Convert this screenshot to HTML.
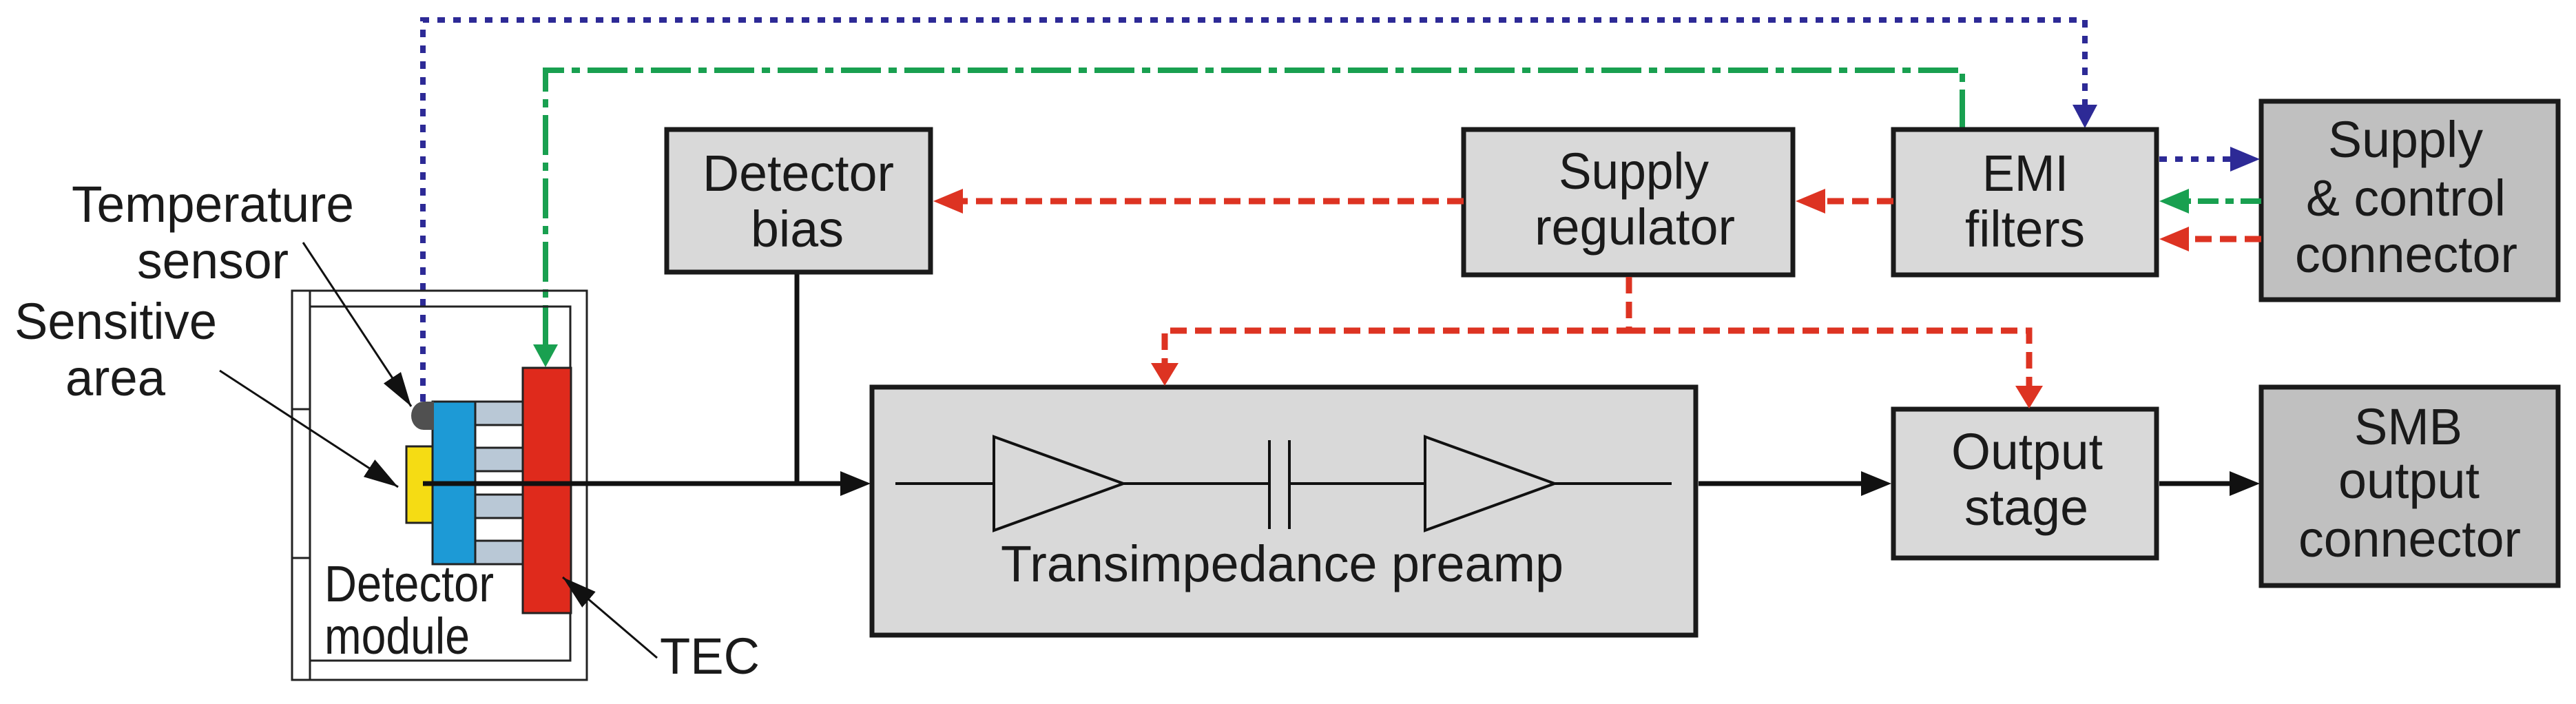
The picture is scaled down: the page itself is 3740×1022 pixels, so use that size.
<!DOCTYPE html>
<html><head><meta charset="utf-8"><style>html,body{margin:0;padding:0;background:#fff;overflow:hidden}svg{display:block}text{font-family:"Liberation Sans",Arial,sans-serif;font-size:74px;fill:#1a1a1a}</style></head>
<body>
<svg width="3740" height="1022" viewBox="0 0 3740 1022" xmlns="http://www.w3.org/2000/svg">
<defs>
<marker id="la" markerWidth="50" markerHeight="30" refX="50" refY="15" orient="auto" markerUnits="userSpaceOnUse" viewBox="0 0 50 30"><path d="M0,0 L50,15 L0,30 z" fill="#111"/></marker>
</defs>
<polyline points="614,583 614,29 3027,29 3027,156" fill="none" stroke="#2d2a96" stroke-width="8" stroke-dasharray="11 12"/>
<path d="M3009,152 L3045,152 L3027,186 z" fill="#2d2a96"/>
<polyline points="2849,188 2849,102 792,102 792,502" fill="none" stroke="#19a050" stroke-width="8" stroke-dasharray="58 11 12 11"/>
<path d="M774,500 L810,500 L792,533 z" fill="#19a050"/>
<rect x="424" y="422" width="428" height="565" fill="none" stroke="#222" stroke-width="3"/>
<rect x="450" y="445" width="378" height="514" fill="none" stroke="#222" stroke-width="3"/>
<line x1="450" y1="422" x2="450" y2="987" stroke="#222" stroke-width="3"/>
<line x1="424" y1="594" x2="450" y2="594" stroke="#222" stroke-width="3"/>
<line x1="424" y1="810" x2="450" y2="810" stroke="#222" stroke-width="3"/>
<rect x="690" y="583" width="69" height="236" fill="#fff" stroke="#222" stroke-width="3"/>
<rect x="690" y="583" width="69" height="34" fill="#b9c8d6" stroke="#222" stroke-width="3"/>
<rect x="690" y="650" width="69" height="34" fill="#b9c8d6" stroke="#222" stroke-width="3"/>
<rect x="690" y="718" width="69" height="34" fill="#b9c8d6" stroke="#222" stroke-width="3"/>
<rect x="690" y="785" width="69" height="34" fill="#b9c8d6" stroke="#222" stroke-width="3"/>
<rect x="628" y="583" width="62" height="236" fill="#1d9ad6" stroke="#222" stroke-width="3"/>
<rect x="590" y="648" width="38" height="111" fill="#f5dc14" stroke="#222" stroke-width="3"/>
<path d="M630,583 L615,583 A18,20.5 0 0 0 615,624 L630,624 z" fill="#505050"/>
<rect x="759" y="534" width="70" height="356" fill="#df2a1c" stroke="#222" stroke-width="3"/>
<line x1="614" y1="702" x2="1222" y2="702" stroke="#111" stroke-width="7"/>
<path d="M1220,684 L1264,702 L1220,720 z" fill="#111"/>
<line x1="1157" y1="395" x2="1157" y2="705" stroke="#111" stroke-width="7"/>
<line x1="440" y1="352" x2="597" y2="590" stroke="#111" stroke-width="3" marker-end="url(#la)"/>
<line x1="319" y1="538" x2="578" y2="707" stroke="#111" stroke-width="3" marker-end="url(#la)"/>
<line x1="954" y1="955" x2="817" y2="838" stroke="#111" stroke-width="3" marker-end="url(#la)"/>
<rect x="968" y="188" width="383" height="207" fill="#d9d9d9" stroke="#1a1a1a" stroke-width="7"/>
<rect x="2125" y="188" width="478" height="211" fill="#d9d9d9" stroke="#1a1a1a" stroke-width="7"/>
<rect x="2749" y="188" width="382" height="211" fill="#d9d9d9" stroke="#1a1a1a" stroke-width="7"/>
<rect x="3283" y="147" width="431" height="288" fill="#c0c0c0" stroke="#1a1a1a" stroke-width="7"/>
<rect x="1266" y="562" width="1196" height="360" fill="#d9d9d9" stroke="#1a1a1a" stroke-width="7"/>
<rect x="2749" y="594" width="382" height="216" fill="#d9d9d9" stroke="#1a1a1a" stroke-width="7"/>
<rect x="3283" y="562" width="431" height="288" fill="#c0c0c0" stroke="#1a1a1a" stroke-width="7"/>
<line x1="2125" y1="292" x2="1395" y2="292" stroke="#dd3322" stroke-width="9" stroke-dasharray="24 12"/>
<path d="M1398,274 L1355,292 L1398,310 z" fill="#dd3322"/>
<line x1="2749" y1="292" x2="2648" y2="292" stroke="#dd3322" stroke-width="9" stroke-dasharray="24 12"/>
<path d="M2650,274 L2607,292 L2650,310 z" fill="#dd3322"/>
<polyline points="2365,402 2365,480 1691,480 1691,530" fill="none" stroke="#dd3322" stroke-width="9" stroke-dasharray="24 12"/>
<path d="M1671,527 L1711,527 L1691,560 z" fill="#dd3322"/>
<polyline points="2365,480 2946,480 2946,565" fill="none" stroke="#dd3322" stroke-width="9" stroke-dasharray="24 12"/>
<path d="M2926,560 L2966,560 L2946,593 z" fill="#dd3322"/>
<line x1="3283" y1="347" x2="3175" y2="347" stroke="#dd3322" stroke-width="9" stroke-dasharray="24 12"/>
<path d="M3178,329 L3135,347 L3178,365 z" fill="#dd3322"/>
<line x1="3135" y1="231" x2="3240" y2="231" stroke="#2d2a96" stroke-width="8" stroke-dasharray="11 12"/>
<path d="M3238,213 L3281,231 L3238,249 z" fill="#2d2a96"/>
<line x1="3283" y1="292" x2="3175" y2="292" stroke="#19a050" stroke-width="8" stroke-dasharray="30 10 12 10"/>
<path d="M3178,274 L3135,292 L3178,310 z" fill="#19a050"/>
<line x1="2466" y1="702" x2="2705" y2="702" stroke="#111" stroke-width="7"/>
<path d="M2702,684 L2746,702 L2702,720 z" fill="#111"/>
<line x1="3135" y1="702" x2="3240" y2="702" stroke="#111" stroke-width="7"/>
<path d="M3237,684 L3281,702 L3237,720 z" fill="#111"/>
<line x1="1300" y1="702" x2="1843" y2="702" stroke="#111" stroke-width="4"/>
<line x1="1872" y1="702" x2="2427" y2="702" stroke="#111" stroke-width="4"/>
<path d="M1443,634 L1631,702 L1443,770 z" fill="#d9d9d9" stroke="#111" stroke-width="4"/>
<path d="M2069,634 L2257,702 L2069,770 z" fill="#d9d9d9" stroke="#111" stroke-width="4"/>
<line x1="1843" y1="639" x2="1843" y2="768" stroke="#111" stroke-width="4"/>
<line x1="1872" y1="639" x2="1872" y2="768" stroke="#111" stroke-width="4"/>
<text x="104" y="322" textLength="410" lengthAdjust="spacingAndGlyphs">Temperature</text>
<text x="199" y="404" textLength="220" lengthAdjust="spacingAndGlyphs">sensor</text>
<text x="21" y="492" textLength="294" lengthAdjust="spacingAndGlyphs">Sensitive</text>
<text x="95" y="574" textLength="145" lengthAdjust="spacingAndGlyphs">area</text>
<text x="471" y="873" textLength="246" lengthAdjust="spacingAndGlyphs">Detector</text>
<text x="471" y="949" textLength="211" lengthAdjust="spacingAndGlyphs">module</text>
<text x="958" y="978" textLength="145" lengthAdjust="spacingAndGlyphs">TEC</text>
<text x="1020" y="277" textLength="278" lengthAdjust="spacingAndGlyphs">Detector</text>
<text x="1090" y="358" textLength="135" lengthAdjust="spacingAndGlyphs">bias</text>
<text x="2263" y="274" textLength="218" lengthAdjust="spacingAndGlyphs">Supply</text>
<text x="2228" y="355" textLength="291" lengthAdjust="spacingAndGlyphs">regulator</text>
<text x="2878" y="277" textLength="125" lengthAdjust="spacingAndGlyphs">EMI</text>
<text x="2853" y="358" textLength="174" lengthAdjust="spacingAndGlyphs">filters</text>
<text x="3380" y="228" textLength="225" lengthAdjust="spacingAndGlyphs">Supply</text>
<text x="3348" y="313" textLength="290" lengthAdjust="spacingAndGlyphs">&amp; control</text>
<text x="3332" y="395" textLength="323" lengthAdjust="spacingAndGlyphs">connector</text>
<text x="1453" y="844" textLength="817" lengthAdjust="spacingAndGlyphs">Transimpedance preamp</text>
<text x="2833" y="681" textLength="220" lengthAdjust="spacingAndGlyphs">Output</text>
<text x="2852" y="762" textLength="180" lengthAdjust="spacingAndGlyphs">stage</text>
<text x="3418" y="645" textLength="157" lengthAdjust="spacingAndGlyphs">SMB</text>
<text x="3395" y="723" textLength="205" lengthAdjust="spacingAndGlyphs">output</text>
<text x="3337" y="808" textLength="323" lengthAdjust="spacingAndGlyphs">connector</text>
</svg>
</body></html>
